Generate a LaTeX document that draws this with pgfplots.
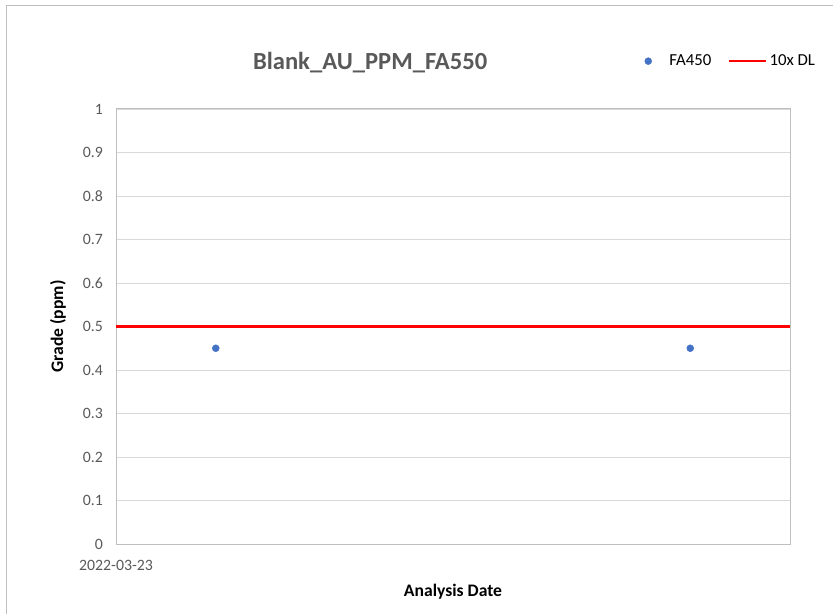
\documentclass[border=0pt]{standalone}
\usepackage{fontspec}
\setmainfont{Carlito}
\usepackage{pgfplots}
\pgfplotsset{compat=1.18}
\definecolor{ptblue}{HTML}{4472C4}
\definecolor{txtgray}{HTML}{595959}
\definecolor{gridgray}{HTML}{D9D9D9}
\definecolor{framegray}{HTML}{BFBFBF}

\begin{document}
\begin{tikzpicture}[x=1pt,y=1pt]
\path[use as bounding box] (0,0) rectangle (833,614);
\draw[framegray, line width=1pt] (6,0) -- (6,608) -- (833,608);
\begin{axis}[
  at={(116pt,70pt)}, anchor=south west,
  scale only axis, width=674pt, height=435pt,
  xmin=0, xmax=1, ymin=0, ymax=1,
  xtick={0}, xticklabels={2022-03-23},
  ytick={0,0.1,...,1},
  yticklabels={0,0.1,0.2,0.3,0.4,0.5,0.6,0.7,0.8,0.9,1},
  major tick length=0pt,
  ymajorgrids, grid style={gridgray, line width=0.9pt},
  axis line style={framegray, line width=1pt},
  tick label style={font=\fontsize{15.8}{18}\selectfont, text=txtgray},
  /pgf/number format/assume math mode=true,
  yticklabel style={anchor=east, inner sep=0pt, xshift=-13pt},
  xticklabel style={anchor=north, inner sep=0pt, yshift=-16pt},
  title={Blank\_AU\_PPM\_FA550},
  title style={at={(axis description cs:0.377,1.092)}, anchor=center,
    font=\fontsize{24.6}{28}\selectfont\bfseries, text=txtgray},
  xlabel={Analysis Date},
  ylabel={Grade (ppm)},
  xlabel style={at={(axis description cs:0.5,-0.110)}, anchor=center,
    font=\fontsize{17.6}{20}\selectfont\bfseries},
  ylabel style={at={(axis description cs:-0.086,0.5)}, anchor=center, rotate=0,
    font=\fontsize{17.6}{20}\selectfont\bfseries},
  legend style={at={(axis description cs:0.779,1.110)}, anchor=west, draw=none,
    fill=none, legend columns=2, font=\fontsize{16.8}{19}\selectfont,
    /tikz/every even column/.append style={column sep=15pt}},
  legend cell align=left,
]
\addplot[only marks, mark=*, mark size=3.5pt, color=ptblue,
  legend image code/.code={\path[draw=none, fill=none] (0pt,0pt) rectangle (23pt,0pt);
    \fill[ptblue] (4pt,0pt) circle (3.5pt);}]
  coordinates {(0.148,0.45) (0.852,0.45)};
\addlegendentry{FA450}
\addplot[red, line width=2.25pt,
  legend image code/.code={\draw[red, line width=2.25pt] (0pt,0pt) -- (37pt,0pt);}]
  coordinates {(0,0.5) (1,0.5)};
\addlegendentry{10x DL}
\end{axis}
\end{tikzpicture}
\end{document}
